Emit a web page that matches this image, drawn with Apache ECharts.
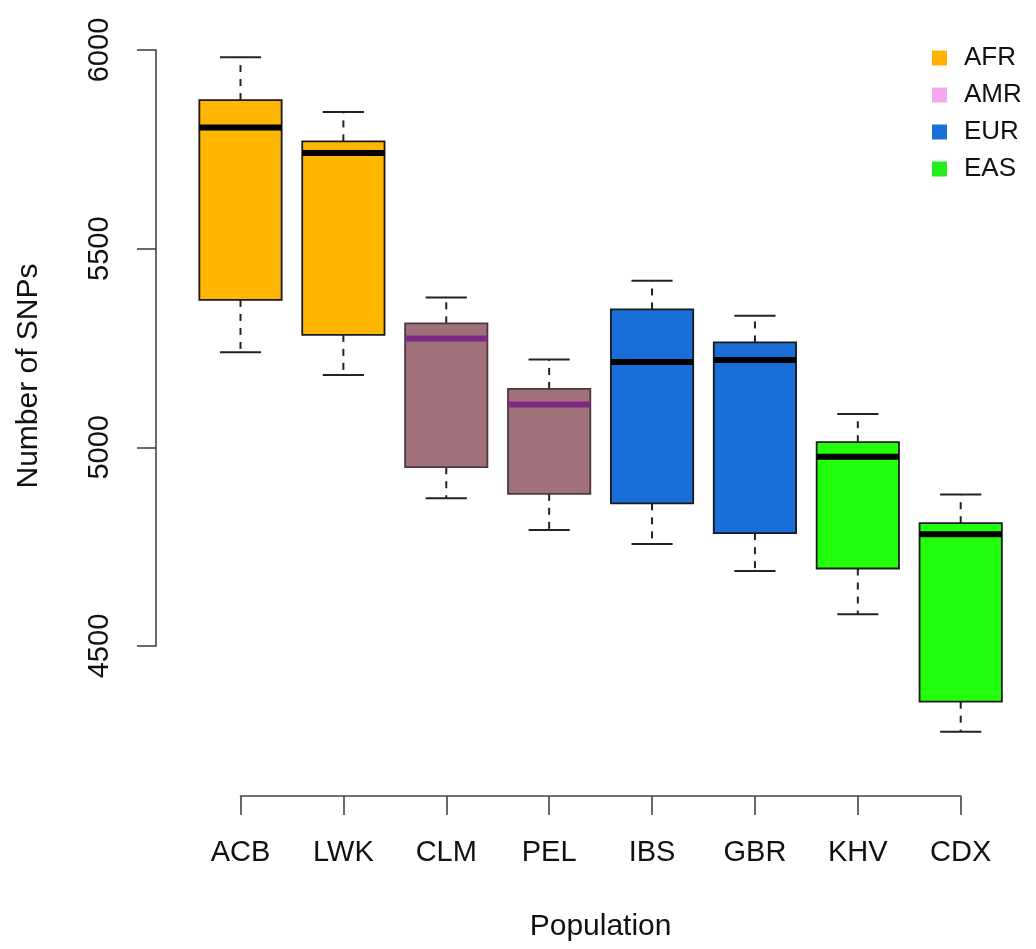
<!DOCTYPE html>
<html>
<head>
<meta charset="utf-8">
<script src="https://cdn.jsdelivr.net/npm/echarts@6/dist/echarts.min.js"></script>
<style>
html, body { margin: 0; padding: 0; background: #fff; }
#chart { width: 1036px; height: 949px; }
</style>
</head>
<body>
<div id="chart"></div>
<script>
const populations = ['ACB', 'LWK', 'CLM', 'PEL', 'IBS', 'GBR', 'KHV', 'CDX'];
const popRegion = ['AFR', 'AFR', 'AMR', 'AMR', 'EUR', 'EUR', 'EAS', 'EAS'];
const regions = ['AFR', 'AMR', 'EUR', 'EAS'];

// box stats per population
const lowerWhisker = [5239, 5182, 4872, 4792, 4757, 4689, 4580, 4284];
const q1 = [5371, 5283, 4950, 4883, 4859, 4784, 4695, 4360];
const medians = [5805, 5741, 5274, 5108, 5215, 5220, 4976, 4781];
const q3 = [5874, 5770, 5312, 5147, 5347, 5264, 5013, 4809];
const upperWhisker = [5982, 5844, 5377, 5221, 5419, 5331, 5084, 4881];

const yTicks = [4500, 5000, 5500, 6000];

const legendColors = { AFR: '#FFB300', AMR: '#F5A6F0', EUR: '#1A6FD8', EAS: '#22EE1E' };
const boxFills = { AFR: '#FFB600', AMR: '#A0707B', EUR: '#186ED6', EAS: '#22FF0C' };
const medianColors = { AFR: '#000000', AMR: '#7D2883', EUR: '#000000', EAS: '#000000' };

const font = '"Liberation Sans", Arial, Helvetica, sans-serif';

function renderBox(params, api) {
    const i = api.value(0);
    const region = popRegion[i];
    const lo = api.coord([i, api.value(1)]);
    const b1 = api.coord([i, api.value(2)]);
    const md = api.coord([i, api.value(3)]);
    const b3 = api.coord([i, api.value(4)]);
    const hi = api.coord([i, api.value(5)]);
    const band = api.size([1, 0])[0];
    const cx = lo[0];
    const hw = band * 0.4;
    const cw = band * 0.2;
    const dashStyle = { stroke: '#222', lineWidth: 2, lineDash: [7, 7] };
    const solid = { stroke: '#222', lineWidth: 2 };
    return {
        type: 'group',
        children: [
            { type: 'line', shape: { x1: cx, y1: b3[1], x2: cx, y2: hi[1] }, style: dashStyle },
            { type: 'line', shape: { x1: cx, y1: b1[1], x2: cx, y2: lo[1] }, style: dashStyle },
            { type: 'line', shape: { x1: cx - cw, y1: hi[1], x2: cx + cw, y2: hi[1] }, style: solid },
            { type: 'line', shape: { x1: cx - cw, y1: lo[1], x2: cx + cw, y2: lo[1] }, style: solid },
            {
                type: 'rect',
                shape: { x: cx - hw, y: b3[1], width: hw * 2, height: b1[1] - b3[1] },
                style: { fill: boxFills[region], stroke: region === 'AMR' ? '#4a3a3e' : '#1a1a1a', lineWidth: 1.8 }
            },
            {
                type: 'line',
                shape: { x1: cx - hw, y1: md[1], x2: cx + hw, y2: md[1] },
                style: { stroke: medianColors[region], lineWidth: 6 }
            }
        ]
    };
}

const chart = echarts.init(document.getElementById('chart'));

const series = regions.map(function (r) {
    const data = [];
    populations.forEach(function (p, i) {
        if (popRegion[i] === r) {
            data.push([i, lowerWhisker[i], q1[i], medians[i], q3[i], upperWhisker[i]]);
        }
    });
    return {
        name: r,
        type: 'custom',
        renderItem: renderBox,
        clip: false,
        itemStyle: { color: legendColors[r] },
        encode: { x: 0, y: [1, 2, 3, 4, 5] },
        data: data
    };
});

chart.setOption({
    animation: false,
    backgroundColor: '#fff',
    textStyle: { fontFamily: font },
    legend: {
        orient: 'vertical',
        left: 927,
        top: 40,
        itemWidth: 15,
        itemHeight: 15,
        itemGap: 11,
        icon: 'rect',
        data: regions,
        textStyle: { fontFamily: font, fontSize: 26, color: '#111', padding: [0, 0, 0, 12] }
    },
    grid: { left: 240.5, right: 75.3, top: 50, bottom: 303 },
    xAxis: {
        type: 'category',
        data: populations,
        boundaryGap: false,
        offset: 150,
        name: 'Population',
        nameLocation: 'middle',
        nameGap: 116,
        nameTextStyle: { fontFamily: font, fontSize: 30, color: '#111' },
        axisLine: { lineStyle: { color: '#444', width: 1.6 } },
        axisTick: { show: true, length: 19, alignWithLabel: true, lineStyle: { color: '#444', width: 1.6 } },
        axisLabel: { fontFamily: font, fontSize: 29, color: '#111', margin: 42 },
        splitLine: { show: false }
    },
    yAxis: {
        type: 'value',
        min: yTicks[0],
        max: yTicks[yTicks.length - 1],
        interval: yTicks[1] - yTicks[0],
        offset: 84.5,
        name: 'Number of SNPs',
        nameLocation: 'middle',
        nameGap: 112,
        nameTextStyle: { fontFamily: font, fontSize: 30, color: '#111', padding: [0, 56, 0, 0] },
        axisLine: { show: true, lineStyle: { color: '#444', width: 1.6 } },
        axisTick: { show: true, length: 19, lineStyle: { color: '#444', width: 1.6 } },
        axisLabel: {
            fontFamily: font, fontSize: 29, color: '#111', rotate: 90, margin: 42,
            formatter: function (v) { return String(v); }
        },
        splitLine: { show: false }
    },
    series: series
});
</script>
</body>
</html>
